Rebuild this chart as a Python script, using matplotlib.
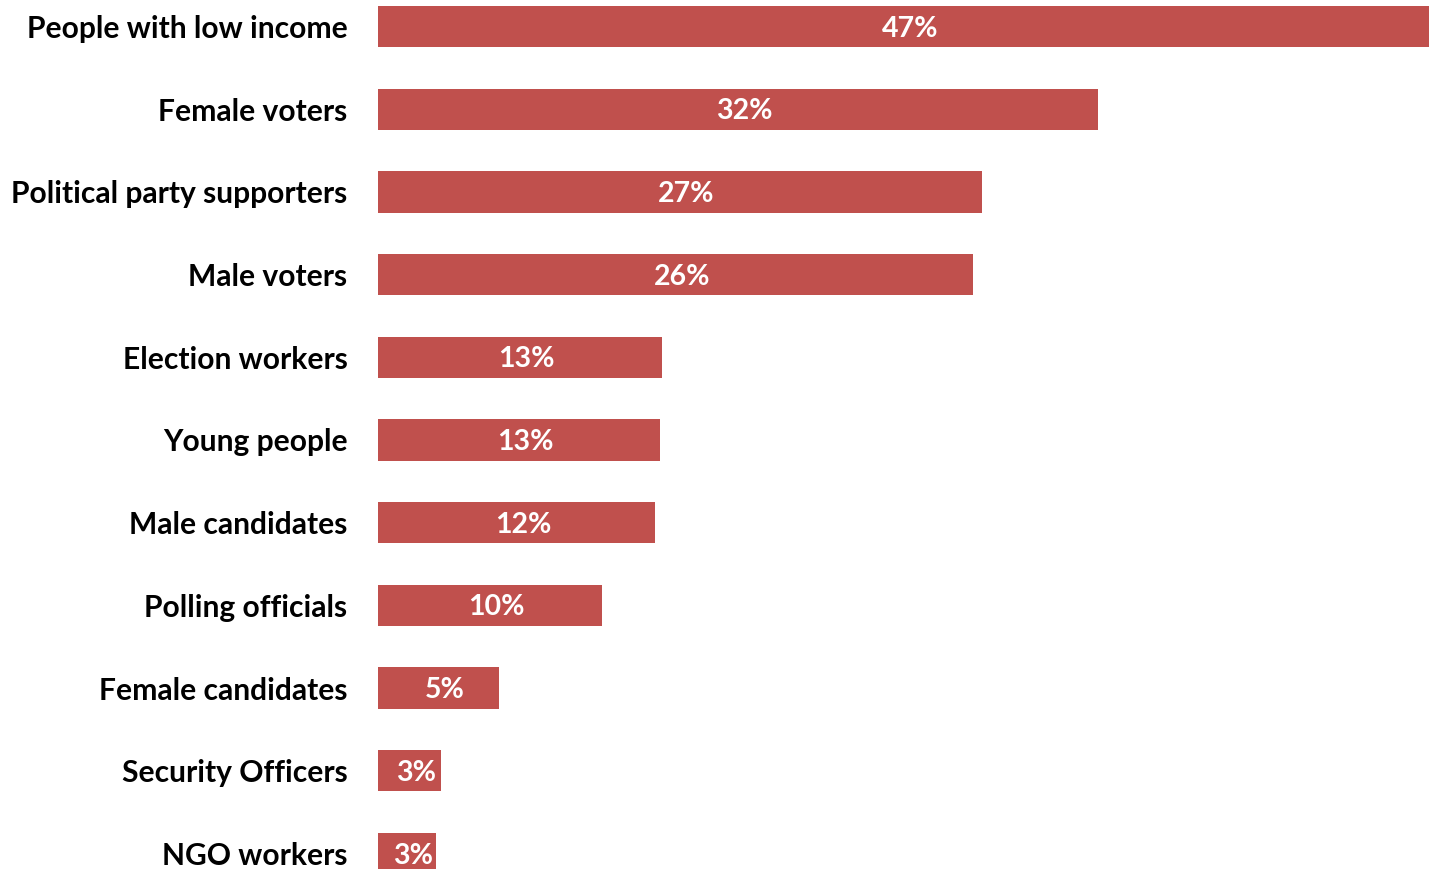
import matplotlib.pyplot as plt

# Data
groups = ["People with low income", "Female voters", "Political party supporters",
          "Male voters", "Election workers", "Young people", "Male candidates",
          "Polling officials", "Female candidates", "Security Officers", "NGO workers"]
values = [47.0, 32.2, 27.0, 26.6, 12.7, 12.6, 12.4, 10.0, 5.4, 2.8, 2.6]
labels = ["47%", "32%", "27%", "26%", "13%", "13%", "12%", "10%", "5%", "3%", "3%"]

W, H = 1429, 869
fig = plt.figure(figsize=(W / 100, H / 100), dpi=100)
ax = fig.add_axes([378 / W, 0, 1 - 378 / W, 1])

pos = list(range(len(groups)))
bars = ax.barh(pos, values, height=0.5, color="#C0504D")

top = 26.5 / 82.7
ax.set_ylim((H - 26.5) / 82.7, -top)
ax.set_xlim(0, 47.0)

for b, lab in zip(bars, labels):
    ax.annotate(lab, (b.get_x() + b.get_width() / 2, b.get_y() + b.get_height() / 2),
                xytext=(4.5, -1.5), textcoords="offset points",
                ha="center", va="center", color="white", fontsize=20.5,
                fontweight="bold", family="Lato")

ax.set_yticks(pos)
ax.set_yticklabels(groups, fontsize=21.6, fontweight="bold", family="Lato")
ax.tick_params(axis="y", length=0, pad=22)
ax.set_xticks([])
for s in ax.spines.values():
    s.set_visible(False)

fig.savefig("out.png", dpi=100)
